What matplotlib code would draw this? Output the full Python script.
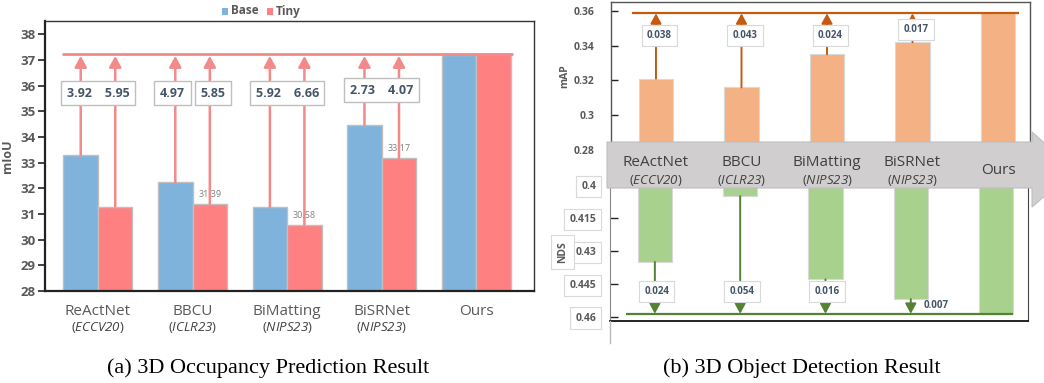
import numpy as np
import matplotlib
matplotlib.use("Agg")
import matplotlib.pyplot as plt
from matplotlib.patches import Polygon, Rectangle
from matplotlib.lines import Line2D

plt.rcParams['font.family'] = ['Open Sans', 'DejaVu Sans']
# math mode is used only for the italic venue names
plt.rcParams['mathtext.fontset'] = 'custom'
plt.rcParams['mathtext.rm'] = 'Open Sans:italic'
plt.rcParams['mathtext.it'] = 'Open Sans:italic'

# data
methods = ['ReActNet', 'BBCU', 'BiMatting', 'BiSRNet', 'Ours']
venues = ['ECCV20', 'ICLR23', 'NIPS23', 'NIPS23', '']

base_miou = [33.28, 32.23, 31.28, 34.47, 37.20]
tiny_miou = [31.29, 31.39, 30.58, 33.17, 37.24]
tiny_labels = ['', '31.39', '30.58', '33.17', '']
base_gain = ['3.92', '4.97', '5.92', '2.73']
tiny_gain = ['5.95', '5.85', '6.66', '4.07']
split_box = [False, True, False, False]

map_vals = [0.321, 0.316, 0.335, 0.342, 0.359]
map_gain = ['0.038', '0.043', '0.024', '0.017']
nds_vals = [0.435, 0.405, 0.443, 0.452, 0.459]
nds_gain = ['0.024', '0.054', '0.016', '0.007']

W, H = 1044, 383
fig = plt.figure(figsize=(W / 100, H / 100), dpi=100)


def px_axes(x0, y0, x1, y1):
    return fig.add_axes([x0 / W, 1 - y1 / H, (x1 - x0) / W, (y1 - y0) / H])


gray = '#595959'
navy = '#44546A'
c_base = '#7FB3DC'
c_tiny = '#FF8080'
c_red = '#F28A8A'

# ---------------- (a) occupancy ----------------
ax = px_axes(45, 21, 534, 291)
x = np.arange(len(methods))
w = 0.365
ax.bar(x - w / 2, base_miou, w, color=c_base, edgecolor='#C0C0C0', lw=1, zorder=2)
ax.bar(x + w / 2, tiny_miou, w, color=c_tiny, edgecolor='#C0C0C0', lw=1, zorder=2)
ax.set_xlim(-0.56, 4.61)
ax.set_ylim(28, 38.52)
ax.set_yticks(range(28, 39))
ax.set_xticks([])
ax.tick_params(axis='y', direction='out', length=5, width=1.2, colors='#222222',
               labelcolor=gray, labelsize=9.5, pad=2)
for lab in ax.get_yticklabels():
    lab.set_fontweight('bold')
for s in ['left', 'bottom']:
    ax.spines[s].set_linewidth(1.6)
    ax.spines[s].set_color('#222222')
for s in ['top', 'right']:
    ax.spines[s].set_linewidth(1.0)
    ax.spines[s].set_color('#333333')
ax.set_ylabel('mIoU', fontsize=9, fontweight='bold', color=gray, labelpad=4)

target = tiny_miou[-1]
ax.hlines(target, -0.38, 4.39, color=c_red, lw=2, zorder=4)
for i in range(4):
    for xi, top in [(x[i] - w / 2, base_miou[i]), (x[i] + w / 2, tiny_miou[i])]:
        ax.annotate('', xy=(xi, target - 0.08), xytext=(xi, top),
                    arrowprops=dict(arrowstyle='-|>,head_length=0.55,head_width=0.3',
                                    color=c_red, lw=1.8, shrinkA=0, shrinkB=0,
                                    mutation_scale=12), zorder=4)
    box = dict(boxstyle='square,pad=0.45', fc='white', ec='#BFBFBF', lw=1)
    yb = 35.83 if i == 3 else 35.71
    if split_box[i]:
        ax.text(x[i] - w / 2 - 0.03, yb, base_gain[i], ha='center', va='center',
                fontsize=9, fontweight='bold', color=navy, bbox=box, zorder=5)
        ax.text(x[i] + w / 2 + 0.03, yb, tiny_gain[i], ha='center', va='center',
                fontsize=9, fontweight='bold', color=navy, bbox=box, zorder=5)
    else:
        ax.text(x[i], yb, base_gain[i] + '    ' + tiny_gain[i], ha='center', va='center',
                fontsize=9, fontweight='bold', color=navy, bbox=box, zorder=5)
    if tiny_labels[i]:
        ax.text(x[i] + w / 2, tiny_miou[i] + 0.2, tiny_labels[i], ha='center',
                va='bottom', fontsize=6.5, color='#808080', zorder=3)

for i, m in enumerate(methods):
    ax.text(x[i], -0.075, m, transform=ax.get_xaxis_transform(), ha='center',
            va='center', fontsize=11, color=gray)
    if venues[i]:
        ax.text(x[i], -0.135, '($' + venues[i] + '$)',
                transform=ax.get_xaxis_transform(), ha='center', va='center',
                fontsize=9.5, color='#404040')

# legend
fig.patches.append(Rectangle((222 / W, 1 - 15 / H), 6 / W, 7 / H, transform=fig.transFigure,
                             fc=c_base, ec='none'))
fig.text(231 / W, 1 - 11 / H, 'Base', fontsize=8.5, fontweight='bold', color=gray, va='center')
fig.patches.append(Rectangle((267 / W, 1 - 15 / H), 6 / W, 7 / H, transform=fig.transFigure,
                             fc=c_tiny, ec='none'))
fig.text(276 / W, 1 - 11 / H, 'Tiny', fontsize=8.5, fontweight='bold', color=gray, va='center')

fig.text(268 / W, 1 - 368 / H, '(a) 3D Occupancy Prediction Result', ha='center', va='center',
         fontsize=16, family='Liberation Serif')

# ---------------- (b) detection ----------------
c_map = '#F4B183'
c_nds = '#A9D18E'
c_org = '#C55A11'
c_grn = '#548235'
xl = (-0.526, 4.374)
wb = 0.4

axm = px_axes(611, 2.3, 1030, 150)
axm.bar(x, map_vals, wb, color=c_map, edgecolor='#D9D9D9', lw=0.8, zorder=2)
axm.set_xlim(*xl)
axm.set_ylim(0.28, 0.365)
axm.set_yticks([0.28, 0.30, 0.32, 0.34, 0.36])
axm.set_yticklabels(['0.28', '0.3', '0.32', '0.34', '0.36'])
axm.set_xticks([])
axm.tick_params(axis='y', direction='in', length=5, width=1, colors='#222222',
                labelcolor=gray, labelsize=7.5, pad=12)
for lab in axm.get_yticklabels():
    lab.set_fontweight('bold')
for s in axm.spines.values():
    s.set_color('#555555')
    s.set_linewidth(1)
axm.set_ylabel('mAP', fontsize=7.5, fontweight='bold', color=gray, labelpad=2)

axm.hlines(map_vals[-1], -0.28, 4.25, color=c_org, lw=1.6, zorder=4)
for i in range(4):
    axm.annotate('', xy=(x[i], map_vals[-1] - 0.0004), xytext=(x[i], map_vals[i]),
                 arrowprops=dict(arrowstyle='-|>,head_length=0.55,head_width=0.3',
                                 color=c_org, lw=1.4, shrinkA=0, shrinkB=0,
                                 mutation_scale=11), zorder=4)
    yb = 0.3494 if i == 3 else 0.3459
    axm.text(x[i] + 0.04, yb, map_gain[i], ha='center', va='center', fontsize=7,
             fontweight='bold', color=navy, zorder=5,
             bbox=dict(boxstyle='square,pad=0.55', fc='white', ec='#D9D9D9', lw=0.8))

axn = px_axes(610, 183, 1028, 321)
axn.bar(x, np.array(nds_vals) - 0.39, wb, bottom=0.39, color=c_nds, edgecolor='#D9D9D9',
        lw=0.8, zorder=2)
axn.set_xlim(*xl)
axn.set_ylim(0.462, 0.399)
axn.set_yticks([0.4, 0.415, 0.43, 0.445, 0.46])
axn.set_yticklabels(['0.4', '0.415', '0.43', '0.445', '0.46'])
axn.set_xticks([])
axn.tick_params(axis='y', direction='in', length=6, width=1, colors='#222222',
                labelcolor=gray, labelsize=7.5, pad=10)
for lab in axn.get_yticklabels():
    lab.set_fontweight('bold')
    lab.set_bbox(dict(boxstyle='square,pad=0.5', fc='white', ec='#D9D9D9', lw=0.8))
axn.spines['top'].set_visible(False)
axn.spines['left'].set_color('#888888')
axn.spines['bottom'].set_color('#111111')
axn.spines['bottom'].set_linewidth(1.3)
axn.spines['right'].set_color('#444444')
axn.set_ylabel('NDS', fontsize=7.5, fontweight='bold', color=gray, labelpad=1,
               bbox=dict(boxstyle='square,pad=0.6', fc='white', ec='#D9D9D9', lw=0.8))

axn.hlines(nds_vals[-1], -0.34, 4.2, color=c_grn, lw=1.6, zorder=4)
for i in range(4):
    axn.annotate('', xy=(x[i], nds_vals[-1] - 0.0003), xytext=(x[i], nds_vals[i]),
                 arrowprops=dict(arrowstyle='-|>,head_length=0.55,head_width=0.3',
                                 color=c_grn, lw=1.4, shrinkA=0, shrinkB=0,
                                 mutation_scale=11), zorder=4)
    if i < 3:
        axn.text(x[i] + 0.02, 0.4485, nds_gain[i], ha='center', va='center', fontsize=7,
                 fontweight='bold', color=navy, zorder=5,
                 bbox=dict(boxstyle='square,pad=0.55', fc='white', ec='#D9D9D9', lw=0.8))
    else:
        axn.text(x[i] + 0.3, 0.4551, nds_gain[i], ha='center', va='center', fontsize=7,
                 fontweight='bold', color=navy, zorder=5)

# extended left spine below the NDS axis
fig.add_artist(Line2D([610 / W, 610 / W], [1 - 321 / H, 1 - 343 / H], color='#BBBBBB', lw=1))

# gray arrow band with method names
pts = [(607, 142), (1032, 142), (1032, 132), (1075, 170), (1032, 207), (1032, 188), (607, 188)]
band = Polygon([(px / W, 1 - py / H) for px, py in pts], closed=True, transform=fig.transFigure,
               fc='#D0CECE', ec='#BFBFBF', lw=0.8, zorder=5)
fig.add_artist(band)
for i, m in enumerate(methods):
    xf = (656 + 85.5 * i) / W
    if venues[i]:
        fig.text(xf, 1 - 163 / H, m, ha='center', va='center', fontsize=11, color='#404040',
                 zorder=6)
        fig.text(xf, 1 - 181 / H, '($' + venues[i] + '$)', ha='center',
                 va='center', fontsize=9.5, color='#404040', zorder=6)
    else:
        fig.text(xf, 1 - 171 / H, m, ha='center', va='center', fontsize=11, color='#404040',
                 zorder=6)

fig.text(802 / W, 1 - 368 / H, '(b) 3D Object Detection Result', ha='center', va='center',
         fontsize=16, family='Liberation Serif')

fig.savefig('out.png', dpi=100)
